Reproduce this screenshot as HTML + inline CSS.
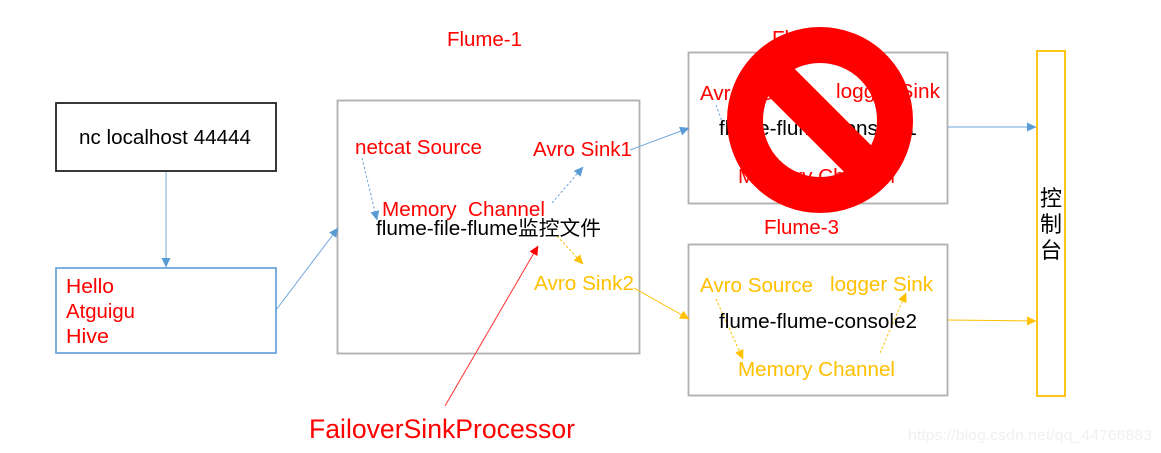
<!DOCTYPE html>
<html>
<head>
<meta charset="utf-8">
<style>
html,body{margin:0;padding:0;background:#fff;width:1161px;height:453px;overflow:hidden}
svg{display:block}
text{font-family:"Liberation Sans","Noto Sans CJK SC",sans-serif;font-size:20px}
.r{fill:#ff0000}.k{fill:#000}.y{fill:#ffc000}
</style>
</head>
<body>
<svg width="1161" height="453" viewBox="0 0 1161 453" xmlns="http://www.w3.org/2000/svg">
<defs>
<marker id="b" markerWidth="10" markerHeight="10" refX="9" refY="4.500" orient="auto" markerUnits="userSpaceOnUse"><path d="M0 0L9.500 4.500L0 9Z" fill="#5b9bd5"/></marker>
<marker id="y" markerWidth="10" markerHeight="10" refX="9" refY="4.500" orient="auto" markerUnits="userSpaceOnUse"><path d="M0 0L9.500 4.500L0 9Z" fill="#ffc000"/></marker>
<marker id="rd" markerWidth="10" markerHeight="10" refX="9" refY="4.500" orient="auto" markerUnits="userSpaceOnUse"><path d="M0 0L9.500 4.500L0 9Z" fill="#ff0000"/></marker>
</defs>

<!-- boxes -->
<rect x="56" y="103" width="220" height="68" fill="#fff" stroke="#222" stroke-width="1.8"/>
<rect x="56" y="268" width="220" height="85" fill="#fff" stroke="#6ea6dc" stroke-width="1.8"/>
<rect x="337.500" y="100.500" width="302" height="253" fill="#fff" stroke="#b0b0b0" stroke-width="1.8"/>
<rect x="688.500" y="52.500" width="259" height="151" fill="#fff" stroke="#b0b0b0" stroke-width="1.8"/>
<rect x="688.500" y="244.500" width="259" height="151" fill="#fff" stroke="#b0b0b0" stroke-width="1.8"/>
<rect x="1037" y="51" width="28" height="345" fill="#fff" stroke="#ffc000" stroke-width="1.8"/>

<!-- solid connectors -->
<g fill="none" stroke-width="1">
<line x1="166" y1="172" x2="166" y2="267" stroke="#9cc3e6" stroke-width="1.4" marker-end="url(#b)"/>
<line x1="276" y1="310" x2="338" y2="228" stroke="#6ea6dc" marker-end="url(#b)"/>
<line x1="630" y1="150" x2="689" y2="128" stroke="#6ea6dc" marker-end="url(#b)"/>
<line x1="948" y1="127" x2="1036" y2="127" stroke="#6ea6dc" marker-end="url(#b)"/>
<line x1="634" y1="288" x2="689" y2="319" stroke="#ffc000" marker-end="url(#y)"/>
<line x1="948" y1="320" x2="1036" y2="321" stroke="#ffc000" marker-end="url(#y)"/>
<line x1="445" y1="406" x2="538" y2="246" stroke="#ff3030" marker-end="url(#rd)"/>
</g>

<!-- dashed connectors -->
<g fill="none" stroke-width="1" stroke-dasharray="2.500 2">
<line x1="362" y1="158" x2="377" y2="220" stroke="#6ea6dc" marker-end="url(#b)"/>
<line x1="552" y1="203" x2="583" y2="167" stroke="#6ea6dc" marker-end="url(#b)"/>
<line x1="716" y1="105" x2="724" y2="127" stroke="#6ea6dc"/>
<line x1="557" y1="236" x2="583" y2="264" stroke="#ffc000" marker-end="url(#y)"/>
<line x1="716" y1="299" x2="743" y2="359" stroke="#ffc000" marker-end="url(#y)"/>
<line x1="880" y1="353" x2="906" y2="293" stroke="#ffc000" marker-end="url(#y)"/>
</g>

<!-- labels -->
<text class="k" x="79" y="144" textLength="172" lengthAdjust="spacingAndGlyphs">nc localhost 44444</text>
<text class="r" x="66" y="293" textLength="48" lengthAdjust="spacingAndGlyphs">Hello</text>
<text class="r" x="66" y="318" textLength="69" lengthAdjust="spacingAndGlyphs">Atguigu</text>
<text class="r" x="66" y="343" textLength="43" lengthAdjust="spacingAndGlyphs">Hive</text>
<text class="r" x="447" y="46" textLength="75" lengthAdjust="spacingAndGlyphs">Flume-1</text>
<text class="r" x="772" y="45" textLength="75" lengthAdjust="spacingAndGlyphs">Flume-2</text>
<text class="r" x="764" y="234" textLength="75" lengthAdjust="spacingAndGlyphs">Flume-3</text>
<text class="r" x="355" y="154" textLength="127" lengthAdjust="spacingAndGlyphs">netcat Source</text>
<text class="r" x="533" y="156" textLength="99" lengthAdjust="spacingAndGlyphs">Avro Sink1</text>
<text class="r" x="382" y="216" textLength="163" lengthAdjust="spacingAndGlyphs" xml:space="preserve">Memory  Channel</text>
<text class="k" x="376" y="235" textLength="225" lengthAdjust="spacingAndGlyphs">flume-file-flume监控文件</text>
<text class="y" x="534" y="290" textLength="100" lengthAdjust="spacingAndGlyphs">Avro Sink2</text>
<text class="r" x="700" y="100" textLength="113" lengthAdjust="spacingAndGlyphs">Avro Source</text>
<text class="r" x="836" y="98" textLength="104" lengthAdjust="spacingAndGlyphs">logger Sink</text>
<text class="k" x="719" y="135" textLength="198" lengthAdjust="spacingAndGlyphs">flume-flume-console1</text>
<text class="r" x="738" y="183" textLength="157" lengthAdjust="spacingAndGlyphs">Memory Channel</text>
<text class="y" x="700" y="292" textLength="113" lengthAdjust="spacingAndGlyphs">Avro Source</text>
<text class="y" x="830" y="291" textLength="103" lengthAdjust="spacingAndGlyphs">logger Sink</text>
<text class="k" x="719" y="328" textLength="198" lengthAdjust="spacingAndGlyphs">flume-flume-console2</text>
<text class="y" x="738" y="376" textLength="157" lengthAdjust="spacingAndGlyphs">Memory Channel</text>
<text class="k" x="1051" y="206" text-anchor="middle" style="font-size:22px">控</text>
<text class="k" x="1051" y="232" text-anchor="middle" style="font-size:22px">制</text>
<text class="k" x="1051" y="258" text-anchor="middle" style="font-size:22px">台</text>
<text class="r" x="309" y="438" style="font-size:27px" textLength="266" lengthAdjust="spacingAndGlyphs">FailoverSinkProcessor</text>

<!-- prohibition sign -->
<circle cx="820" cy="120" r="75" fill="none" stroke="#ff0000" stroke-width="36"/>
<line x1="766" y1="67" x2="874" y2="175" stroke="#ff0000" stroke-width="38"/>

<!-- watermark -->
<text x="908" y="440" style="font-size:15px" fill="#f0f0f0" textLength="244" lengthAdjust="spacingAndGlyphs">https://blog.csdn.net/qq_44766883</text>
</svg>
</body>
</html>
